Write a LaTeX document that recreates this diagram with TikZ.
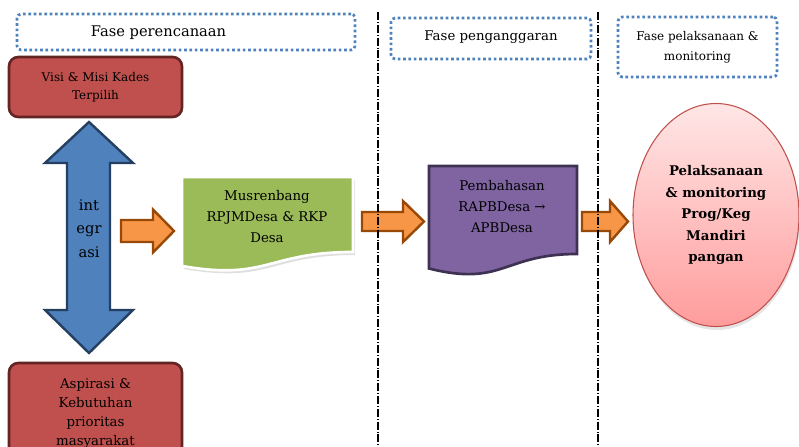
\documentclass[tikz,border=0pt]{standalone}
\usepackage{fontspec}
\setmainfont{DejaVu Serif}
\usetikzlibrary{shapes.geometric}

\definecolor{redfill}{HTML}{C0504D}
\definecolor{redline}{HTML}{632523}
\definecolor{bluefill}{HTML}{4F81BD}
\definecolor{blueline}{HTML}{243F60}
\definecolor{orangefill}{HTML}{F79646}
\definecolor{orangeline}{HTML}{984807}
\definecolor{greenfill}{HTML}{9BBB59}
\definecolor{purplefill}{HTML}{8064A2}
\definecolor{purpleline}{HTML}{3F3151}
\definecolor{pinktop}{HTML}{FFE6E6}
\definecolor{pinkbottom}{HTML}{FF9C9C}

\begin{document}
\begin{tikzpicture}[x=0.75pt,y=-0.75pt]
\tikzstyle{phase}=[draw=bluefill, line width=2pt, dash pattern=on 2pt off 2pt, rounded corners=3pt]
\tikzstyle{redbox}=[draw=redline, fill=redfill, line width=2pt, rounded corners=7pt, align=center, minimum width=129.75pt]
\tikzstyle{bigarrow}=[draw=blueline, fill=bluefill, line width=1.8pt]
\tikzstyle{orangearrow}=[draw=orangeline, fill=orangefill, line width=1.8pt]
\tikzstyle{greendoc}=[draw=white, fill=greenfill, line width=2pt]
\tikzstyle{purpledoc}=[draw=purpleline, fill=purplefill, line width=2pt]
\tikzstyle{goal}=[ellipse, draw=redfill, line width=0.8pt, top color=pinktop, bottom color=pinkbottom, minimum width=124.5pt, minimum height=167.25pt, align=center]
\tikzstyle{divider}=[line width=1pt, dash pattern=on 6pt off 1.5pt on 0.6pt off 1.5pt]

\useasboundingbox (0,0) rectangle (799,446);

% phase headers
\draw (186,32) node[phase, minimum width=253.5pt, minimum height=27pt] (box1) {};
\draw (491,38.5) node[phase, minimum width=150pt, minimum height=30.75pt] (box2) {};
\draw (697.5,47) node[phase, minimum width=119.25pt, minimum height=45pt] (box3) {};
\draw (158.5,33) node[font=\fontsize{11}{13}\selectfont] (fase1) {Fase perencanaan};
\draw (491,37) node[font=\fontsize{10}{12}\selectfont] (fase2) {Fase penganggaran};
\draw (697.5,47) node[font=\fontsize{9}{15}\selectfont, align=center] (fase3) {Fase pelaksanaan \&\\monitoring};

% planning phase
\draw (95.5,87) node[redbox, minimum height=45pt, font=\fontsize{9}{13.5}\selectfont] (visi) {Visi \& Misi Kades\\Terpilih};
\draw (95.5,413.5) node[redbox, minimum height=75.75pt, font=\fontsize{10}{14.25}\selectfont] (aspirasi) {Aspirasi \&\\Kebutuhan\\prioritas\\masyarakat};

\draw[bigarrow] (89,122) -- (133,163) -- (110,163) -- (110,310) -- (133,310) -- (89,353)
  -- (45,310) -- (67,310) -- (67,163) -- (45,163) -- cycle;
\draw (89,228.5) node[font=\fontsize{11}{17.6}\selectfont, align=center] (integrasi) {int\\egr\\asi};

\draw[orangearrow] (121,220) -- (153,220) -- (153,209.5) -- (174,231) -- (153,252.5) -- (153,242) -- (121,242) -- cycle;

\fill[gray!25] (184,180) -- (355,180) -- (355,255) .. controls (269.5,255) and (269.5,284) .. (184,269) -- cycle;
\draw[greendoc] (182,177) -- (353,177) -- (353,252) .. controls (267.5,252) and (267.5,281) .. (182,266) -- cycle;
\draw (267,216.5) node[font=\fontsize{10}{16}\selectfont, align=center] (musrenbang) {Musrenbang\\RPJMDesa \& RKP\\Desa};

% budgeting phase
\draw[orangearrow] (362,212) -- (403,212) -- (403,201) -- (424,221.5) -- (403,242) -- (403,231) -- (362,231) -- cycle;

\draw[purpledoc] (429,166) -- (577,166) -- (577,254) .. controls (503,254) and (503,287) .. (429,268.5) -- cycle;
\draw (502,206.5) node[font=\fontsize{10}{16}\selectfont, align=center] (pembahasan) {Pembahasan\\RAPBDesa →\\APBDesa};

% implementation phase
\draw[orangearrow] (582,212) -- (610,212) -- (610,201) -- (628,221.5) -- (610,242) -- (610,231) -- (582,231) -- cycle;

\fill[gray!20] (717,218) ellipse (83 and 112);
\draw (716,215) node[goal, font=\fontsize{10}{16.1}\bfseries] (pelaksanaan) {Pelaksanaan\\\& monitoring\\Prog/Keg\\Mandiri\\pangan};

% phase dividers
\draw[divider] (378,12) -- (378,446);
\draw[divider] (598,12) -- (598,446);
\end{tikzpicture}
\end{document}
